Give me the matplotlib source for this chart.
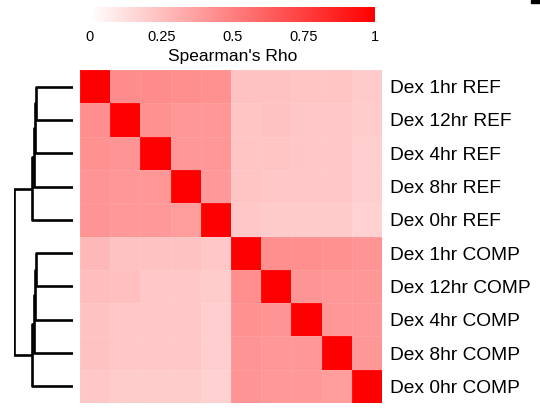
import numpy as np
import matplotlib
matplotlib.use("Agg")
import matplotlib.pyplot as plt
from matplotlib.colors import LinearSegmentedColormap

plt.rcParams["font.family"] = ["Liberation Sans", "DejaVu Sans"]

samples = ["Dex 1hr REF", "Dex 12hr REF", "Dex 4hr REF", "Dex 8hr REF", "Dex 0hr REF",
           "Dex 1hr COMP", "Dex 12hr COMP", "Dex 4hr COMP", "Dex 8hr COMP", "Dex 0hr COMP"]

# Spearman's rho, rows/cols in the clustered order above
rho = np.array([
    [1.00, 0.45, 0.45, 0.44, 0.43, 0.24, 0.24, 0.23, 0.23, 0.21],
    [0.44, 1.00, 0.43, 0.41, 0.41, 0.23, 0.24, 0.22, 0.22, 0.20],
    [0.43, 0.42, 1.00, 0.41, 0.41, 0.23, 0.23, 0.22, 0.22, 0.19],
    [0.42, 0.41, 0.41, 1.00, 0.40, 0.23, 0.22, 0.22, 0.22, 0.19],
    [0.42, 0.40, 0.40, 0.39, 1.00, 0.22, 0.21, 0.21, 0.21, 0.18],
    [0.28, 0.24, 0.24, 0.24, 0.22, 1.00, 0.44, 0.44, 0.43, 0.42],
    [0.26, 0.25, 0.22, 0.22, 0.20, 0.44, 1.00, 0.42, 0.41, 0.41],
    [0.24, 0.22, 0.22, 0.22, 0.19, 0.43, 0.42, 1.00, 0.41, 0.40],
    [0.24, 0.22, 0.22, 0.22, 0.19, 0.42, 0.41, 0.41, 1.00, 0.41],
    [0.22, 0.20, 0.20, 0.20, 0.18, 0.42, 0.40, 0.40, 0.39, 1.00],
])

# row dendrogram merges: (left node, right node, height); new nodes numbered from 10
merges = [(0, 1, 0.37), (10, 2, 0.38), (11, 3, 0.39), (12, 4, 0.41),
          (5, 6, 0.37), (14, 7, 0.38), (15, 8, 0.39), (16, 9, 0.41),
          (13, 17, 0.59)]

cbar_ticks = [0, 0.25, 0.5, 0.75, 1]
cbar_labels = ["0", "0.25", "0.5", "0.75", "1"]

W, H = 540, 409
fig = plt.figure(figsize=(W / 100, H / 100), dpi=100)


def box(x0, y0, x1, y1):
    return [x0 / W, 1 - y1 / H, (x1 - x0) / W, (y1 - y0) / H]


cmap = LinearSegmentedColormap.from_list("wr", ["#FFFFFF", "#FF0000"])

# heatmap
ax = fig.add_axes(box(80, 70, 382, 403))
ax.pcolormesh(rho, cmap=cmap, vmin=0, vmax=1, edgecolors=(1, 1, 1, 0.07), linewidth=0.4)
ax.set_xlim(0, 10)
ax.set_ylim(10, 0)
ax.set_xticks([])
ax.yaxis.tick_right()
ax.set_yticks(np.arange(10) + 0.5)
ax.set_yticklabels(samples, fontsize=13.8)
ax.tick_params(axis="y", length=0, pad=6)
for s in ax.spines.values():
    s.set_visible(False)

# dendrogram
dax = fig.add_axes(box(14, 70, 73, 403))
pos = {i: i + 0.5 for i in range(10)}
hgt = {i: 0.0 for i in range(10)}
for k, (a, b, h) in enumerate(merges):
    ya, yb = pos[a], pos[b]
    dax.plot([hgt[a], h, h, hgt[b]], [ya, ya, yb, yb], color="black", lw=1.9,
             solid_capstyle="butt")
    pos[10 + k] = (ya + yb) / 2
    hgt[10 + k] = h
dax.set_xlim(max(m[2] for m in merges), 0)
dax.set_ylim(10, 0)
dax.axis("off")

# colour key
cax = fig.add_axes(box(90, 7, 375, 22))
grad = np.linspace(0, 1, 256).reshape(1, -1)
cax.imshow(grad, aspect="auto", cmap=cmap, extent=[0, 1, 0, 1])
cax.set_yticks([])
cax.set_xticks(cbar_ticks)
cax.set_xticklabels(cbar_labels, fontsize=10.5)
cax.tick_params(axis="x", length=0, pad=6)
cax.set_xlabel("Spearman's Rho", fontsize=12.5, labelpad=3)
for s in cax.spines.values():
    s.set_visible(False)

# small dark mark in the top-right corner
fig.add_artist(plt.Rectangle((531 / W, 1 - 3 / H), 9 / W, 3 / H, color="black",
                             transform=fig.transFigure))

fig.savefig("out.png", dpi=100)
